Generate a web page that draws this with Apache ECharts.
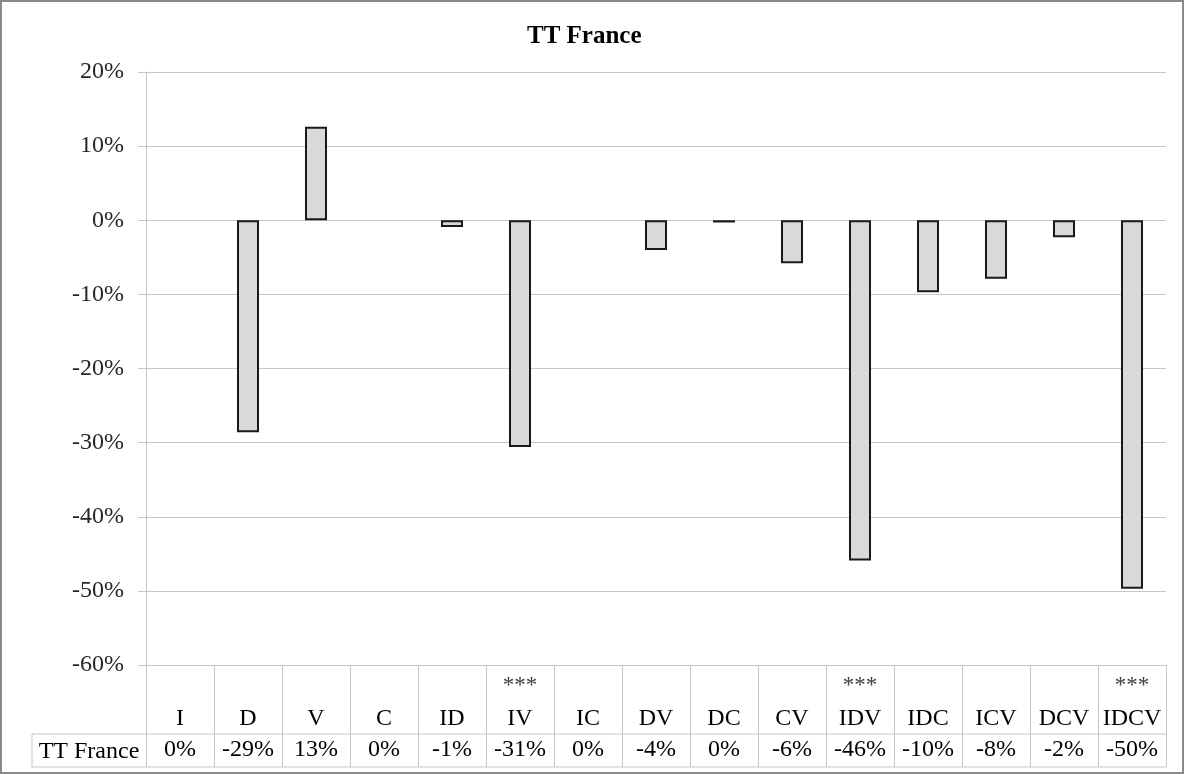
<!DOCTYPE html>
<html>
<head>
<meta charset="utf-8">
<script src="https://cdn.jsdelivr.net/npm/echarts@6/dist/echarts.min.js"></script>
<style>
html,body{margin:0;padding:0;background:#fff;}
#wrap{width:1184px;height:774px;box-sizing:border-box;border:2px solid #8a8a8a;position:relative;}
#chart{position:absolute;left:-2px;top:-2px;width:1184px;height:774px;}
</style>
</head>
<body>
<div id="wrap"><div id="chart"></div></div>
<script>
// ---- data ----
const title = 'TT France';
const seriesName = 'TT France';
const categories = ['I','D','V','C','ID','IV','IC','DV','DC','CV','IDV','IDC','ICV','DCV','IDCV'];
const values = [0, -28.6, 12.6, 0, -0.9, -30.6, 0, -4.0, -0.3, -5.8, -45.9, -9.7, -7.9, -2.3, -49.7];
const stars = ['', '', '', '', '', '***', '', '', '', '', '***', '', '', '', '***'];
const yTicks = { min: -60, max: 20, interval: 10 };

// ---- layout constants ----
const G = { left: 146, right: 18, top: 72, bottom: 109 };
const W = 1184, H = 774;
const axisY = H - G.bottom;       // 665
const rowLineY = 734;
const tableBottom = 767;
const tableLeft = 32;
const tableRight = W - G.right;
const gridColor = '#c6c6c6';
const serif = '"Liberation Serif", "Times New Roman", serif';
const FS = 24;

const chart = echarts.init(document.getElementById('chart'), null, { renderer: 'canvas' });

const pct = v => { const r = Math.round(v); return (r === 0 ? 0 : r) + '%'; };

chart.setOption({
  animation: false,
  backgroundColor: 'transparent',
  title: {
    text: title,
    left: 522, top: 19,
    textStyle: { fontFamily: serif, fontSize: 25, fontWeight: 'bold', color: '#000' }
  },
  grid: { left: G.left, right: G.right, top: G.top, bottom: G.bottom, containLabel: false },
  xAxis: [
    {
      type: 'category', data: categories, position: 'bottom',
      boundaryGap: true,
      axisLine: { show: true, onZero: false, lineStyle: { color: gridColor, width: 1 } },
      axisTick: { show: true, interval: 0, alignWithLabel: false, length: tableBottom - axisY, lineStyle: { color: gridColor, width: 1 } },
      axisLabel: {
        interval: 0, margin: 0,
        formatter: (v, i) => '{s|' + (stars[i] || ' ') + '}\n{c|' + v + '}',
        rich: {
          s: { fontFamily: serif, fontSize: 23, color: '#404040', lineHeight: 42, align: 'center' },
          c: { fontFamily: serif, fontSize: FS, color: '#000', lineHeight: 24, align: 'center' }
        }
      },
      splitLine: { show: false }
    },
    {
      type: 'category', data: categories, position: 'bottom',
      boundaryGap: true,
      axisLine: { show: false, onZero: false }, axisTick: { show: false },
      axisLabel: {
        interval: 0, margin: 71,
        formatter: (v, i) => pct(values[i]),
        fontFamily: serif, fontSize: FS, color: '#000', lineHeight: 28
      }
    }
  ],
  yAxis: {
    type: 'value', min: yTicks.min, max: yTicks.max, interval: yTicks.interval,
    axisLine: { show: true, lineStyle: { color: gridColor, width: 1 } },
    axisTick: { show: true, length: 8, lineStyle: { color: gridColor } },
    axisLabel: { formatter: '{value}%', fontFamily: serif, fontSize: FS, color: '#262626', margin: 22 },
    splitLine: { show: true, lineStyle: { color: gridColor, width: 1 } }
  },
  series: [{
    name: seriesName, type: 'bar', barWidth: 22,
    data: values.map(v => v === 0 ? { value: v, itemStyle: { borderWidth: 0, opacity: 0 } } : v),
    itemStyle: { color: '#d9d9d9', borderColor: '#1a1a1a', borderWidth: 2 }
  }],
  graphic: [
    { type: 'line', shape: { x1: tableLeft, y1: rowLineY, x2: tableRight, y2: rowLineY }, style: { stroke: gridColor, lineWidth: 1 } },
    { type: 'line', shape: { x1: tableLeft, y1: tableBottom, x2: tableRight, y2: tableBottom }, style: { stroke: gridColor, lineWidth: 1 } },
    { type: 'line', shape: { x1: tableLeft, y1: rowLineY, x2: tableLeft, y2: tableBottom }, style: { stroke: gridColor, lineWidth: 1 } },
    { type: 'text', x: (tableLeft + G.left) / 2, y: (rowLineY + tableBottom) / 2 + 1,
      style: { text: seriesName, fontFamily: serif, fontSize: FS, fill: '#000', textAlign: 'center', textVerticalAlign: 'middle' } }
  ]
});
</script>
</body>
</html>
